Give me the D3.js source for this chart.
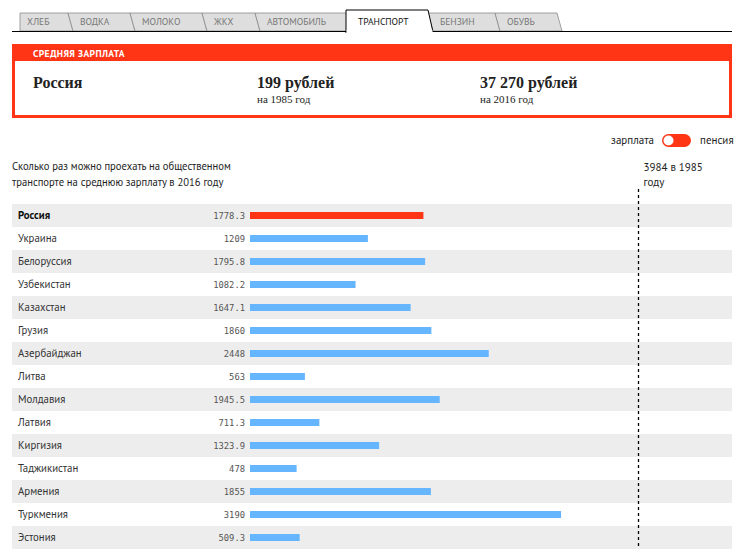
<!DOCTYPE html>
<html><head><meta charset="utf-8">
<script src="https://cdn.jsdelivr.net/npm/d3@7"></script>
<style>
body{margin:0;background:#fff;}
svg{display:block;}
</style></head>
<body>
<svg id="c" width="734" height="556"></svg>
<script>
const tabs = ["ХЛЕБ","ВОДКА","МОЛОКО","ЖКХ","АВТОМОБИЛЬ","ТРАНСПОРТ","БЕНЗИН","ОБУВЬ"];
const tabEdges = [20,68,130,202,255,346,428,495,557];
const activeTab = "ТРАНСПОРТ";
const countries = ["Россия","Украина","Белоруссия","Узбекистан","Казахстан","Грузия","Азербайджан","Литва","Молдавия","Латвия","Киргизия","Таджикистан","Армения","Туркмения","Эстония"];
const values = [1778.3,1209,1795.8,1082.2,1647.1,1860,2448,563,1945.5,711.3,1323.9,478,1855,3190,509.3];
const valueLabels = ["1778.3","1209","1795.8","1082.2","1647.1","1860","2448","563","1945.5","711.3","1323.9","478","1855","3190","509.3"];
const refValue = 3984;
const refLabel = ["3984 в 1985","году"];
const title = ["Сколько раз можно проехать на общественном","транспорте на среднюю зарплату в 2016 году"];
const boxHeader = "СРЕДНЯЯ ЗАРПЛАТА";
const boxCountry = "Россия";
const boxValues = ["199 рублей","37 270 рублей"];
const boxYears = ["на 1985 год","на 2016 год"];

const RED = "#ff3516", BLUE = "#66b5ff";
const sans = "'PT Sans','Roboto','Liberation Sans',sans-serif";
const serif = "'Liberation Serif','DejaVu Serif',serif";
const svg = d3.select("#c");

// tabs
const tg = svg.append("g");
const tabTop = 13, tabBot = 31;
tabs.forEach((t,i)=>{
  if(t===activeTab) return;
  const x0 = tabEdges[i], x1 = tabEdges[i+1];
  const x0b = i===0 ? x0 : x0+5;
  tg.append("path").attr("d",`M${x0b},${tabBot}L${x0},${tabTop}L${x1},${tabTop}L${x1+5},${tabBot}Z`)
    .attr("fill","#dedede").attr("stroke","#8a8a8a").attr("stroke-width",0.8);
});
svg.append("line").attr("x1",12).attr("x2",732).attr("y1",tabBot+0.5).attr("y2",tabBot+0.5).attr("stroke","#000").attr("stroke-width",1);
{
  const i = tabs.indexOf(activeTab);
  const x0 = tabEdges[i], x1 = tabEdges[i+1];
  tg.append("path").attr("d",`M${x0},${tabBot+2}L${x0},10L${x1},10L${x1+5},${tabBot+1}`)
    .attr("fill","#fff").attr("stroke","#000").attr("stroke-width",1);
  svg.append("rect").attr("x",x0+0.5).attr("y",tabBot-1).attr("width",x1-x0+4).attr("height",3).attr("fill","#fff");
}
tabs.forEach((t,i)=>{
  const x0 = tabEdges[i];
  svg.append("text").attr("x",x0+(i===0?7:12)).attr("y",25).text(t)
    .attr("font-family",sans).attr("font-size",9.5)
    .attr("fill", t===activeTab ? "#111" : "#777");
});

// red box
svg.append("rect").attr("x",13.5).attr("y",45.5).attr("width",717).attr("height",71).attr("fill","#fff").attr("stroke",RED).attr("stroke-width",3);
svg.append("rect").attr("x",12).attr("y",44).attr("width",720).attr("height",17).attr("fill",RED);
svg.append("text").attr("x",33).attr("y",57).text(boxHeader).attr("fill","#fff").attr("font-family",sans).attr("font-weight","bold").attr("font-size",9.5).attr("letter-spacing",0.4);
svg.append("text").attr("x",33).attr("y",88).text(boxCountry).attr("font-family",serif).attr("font-weight","bold").attr("font-size",16).attr("fill","#222");
const bx = [257,480];
boxValues.forEach((v,i)=>{
  svg.append("text").attr("x",bx[i]).attr("y",88).text(v).attr("font-family",serif).attr("font-weight","bold").attr("font-size",16).attr("fill","#222");
  svg.append("text").attr("x",bx[i]).attr("y",103).text(boxYears[i]).attr("font-family",serif).attr("font-size",11).attr("fill","#222");
});

// toggle
svg.append("text").attr("x",654).attr("y",144).attr("text-anchor","end").text("зарплата").attr("font-family",sans).attr("font-size",11).attr("fill","#222");
svg.append("rect").attr("x",662).attr("y",134).attr("width",29).attr("height",13).attr("rx",6.5).attr("fill",RED);
svg.append("circle").attr("cx",668.5).attr("cy",140.5).attr("r",5).attr("fill","#fff");
svg.append("text").attr("x",700).attr("y",144).text("пенсия").attr("font-family",sans).attr("font-size",11).attr("fill","#222");

// title
title.forEach((t,i)=>svg.append("text").attr("x",12).attr("y",170+i*16).text(t).attr("font-family",sans).attr("font-size",10.6).attr("fill","#222"));

// chart
const rowTop = 204, rowH = 23;
const y = d3.scaleBand().domain(countries).range([rowTop,rowTop+rowH*countries.length]).paddingInner(0).paddingOuter(0);
const x = d3.scaleLinear().domain([0,refValue]).range([250,638.5]);

const rows = svg.append("g").selectAll("g").data(countries).join("g");
rows.append("rect").attr("x",12).attr("width",720).attr("y",d=>y(d)).attr("height",y.bandwidth())
  .attr("fill",(d,i)=>i%2===0?"#ededed":"#fff");
rows.append("text").attr("x",18).attr("y",d=>y(d)+y.bandwidth()/2+3.5).text(d=>d)
  .attr("font-family",sans).attr("font-size",10.8).attr("fill",(d,i)=>i===0?"#111":"#333")
  .attr("font-weight",(d,i)=>i===0?"bold":"normal");
rows.append("text").attr("x",245).attr("y",d=>y(d)+y.bandwidth()/2+3.5).attr("text-anchor","end")
  .text((d,i)=>valueLabels[i]).attr("font-family","'DejaVu Sans Mono',monospace").attr("font-size",8.8).attr("fill","#555");
rows.append("rect").attr("x",x(0)).attr("y",d=>y(d)+y.bandwidth()/2-3.5).attr("height",7)
  .attr("width",(d,i)=>x(values[i])-x(0)).attr("fill",(d,i)=>i===0?RED:BLUE);

// reference line
svg.append("line").attr("x1",x(refValue)).attr("x2",x(refValue)).attr("y1",189).attr("y2",y.range()[1])
  .attr("stroke","#000").attr("stroke-width",1.3).attr("stroke-dasharray","3,3");
refLabel.forEach((t,i)=>svg.append("text").attr("x",x(refValue)+5).attr("y",171+i*15).text(t).attr("font-family",sans).attr("font-size",11).attr("fill","#222"));
</script>
</body></html>
